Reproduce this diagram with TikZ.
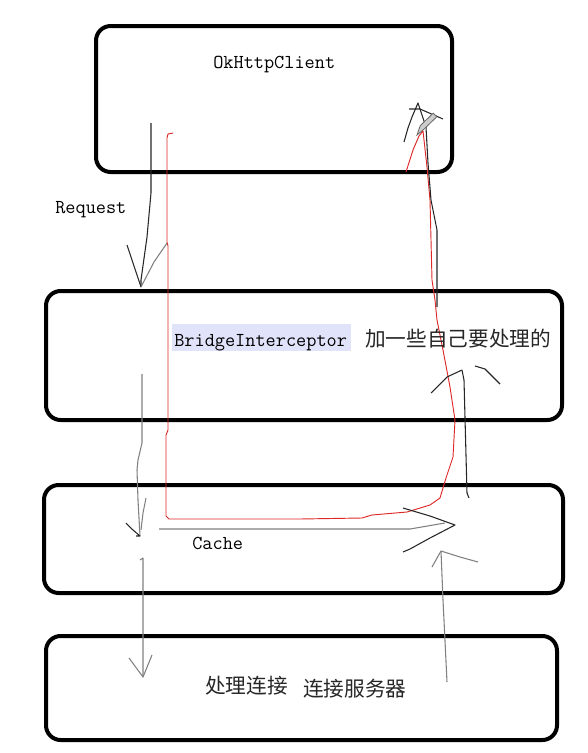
\documentclass[tikz,border=0pt]{standalone}
\usepackage{fontspec}
\newfontfamily\cjk{Noto Sans CJK SC}
\usepackage{tikz}
\definecolor{penred}{RGB}{222,40,40}
\definecolor{hilite}{RGB}{224,227,250}

\begin{document}
\begin{tikzpicture}[x=0.75pt,y=0.75pt,yscale=-1,xscale=1,
    box/.style={line width=3pt, rounded corners=11pt},
    ink/.style={line width=0.8pt, black!85, line join=round},
    greyink/.style={line width=0.8pt, black!50, line join=round},
    redink/.style={line width=0.7pt, penred, line join=round},
    mono/.style={font=\ttfamily\fontsize{14.8}{16}\selectfont, text=black},
    zh/.style={font=\cjk\fontsize{15.5}{17}\selectfont, text=black!85}]
    \path[use as bounding box] (0,0) rectangle (587,753); %page 587 x 753

    %Rounded Rect (client)
    \draw[box] (96,26) rectangle (452,172) ;
    %Rounded Rect (bridge)
    \draw[box] (46,291) rectangle (562,420) ;
    %Rounded Rect (cache)
    \draw[box] (44,485) rectangle (563,593) ;
    %Rounded Rect (connect)
    \draw[box] (46,636) rectangle (557,740) ;

    %Highlight behind BridgeInterceptor
    \fill[hilite] (172,324) rectangle (351,351) ;

    %Red path, down on the left and back up on the right
    \draw[redink] (173,133) -- (168,134) -- (167,138) -- (167,242) -- (168,246) -- (168,430) -- (166,435) -- (166,516) -- (169,519) -- (300,519) -- (362,518) -- (372,515) -- (407,512) -- (430,505) -- (440,498) -- (446,478) -- (453,457) -- (455,420) -- (450,387) -- (443,350) -- (437,320) -- (435,300) -- (432,280) -- (431,240) -- (430,200) -- (427,167) -- (424,140) -- (423,131) -- (419,136) -- (413,150) -- (406,172) ;

    %Arrow client -> bridge
    \draw[ink] (151,123) -- (151,193) -- (147,237) -- (141,280) -- (141,287) ;
    \draw[ink] (127,245) -- (131,257) -- (141,287) ;
    \draw[greyink] (141,287) -- (154,262) -- (167,243) ;

    %Arrow bridge -> cache
    \draw[greyink] (142,374) -- (142,443) -- (138,460) -- (137,470) -- (138,500) -- (140,536) ;
    \draw[ink] (126,523) -- (133,530) -- (140,536) -- (136,536) ;
    \draw[greyink] (146,498) -- (143,513) -- (141,530) ;

    %Arrow cache -> connect
    \draw[greyink] (140,560) -- (143,558) -- (143,677) ;
    \draw[greyink] (129,658) -- (143,677) -- (152,655) ;

    %Horizontal arrow next to Cache
    \draw[greyink] (159,529) -- (410,529) -- (445,523) ;
    \draw[ink] (403,508) -- (430,516) -- (455,525) -- (430,538) -- (410,549) -- (403,552) ;

    %Arrow connect -> cache
    \draw[greyink] (447,682) -- (443,600) -- (441,551) ;
    \draw[greyink] (432,567) -- (441,551) -- (460,557) -- (478,562) ;

    %Arrow cache -> bridge
    \draw[ink] (469,498) -- (467,493) -- (464,380) -- (462,370) ;
    \draw[ink] (431,393) -- (447,377) -- (462,370) ;
    \draw[ink] (475,366) -- (485,369) -- (500,384) ;

    %Arrow bridge -> client
    \draw[ink] (437,307) -- (437,230) -- (431,200) -- (428,163) -- (426,127) -- (418,103) -- (412,117) -- (408,128) -- (404,142) ;
    \draw[ink] (409,109) -- (420,109) -- (443,119) ;

    %Pencil cursor
    \draw[line width=0.6pt, black!60, fill=black!20] (417,135) -- (420.2,125.7) -- (433.2,113.2) -- (436.8,116.8) -- (423.8,129.3) -- cycle ;

    % Text Node
    \draw (213,68.5) node [anchor=base west][inner sep=0pt][mono] (client) {OkHttpClient};
    % Text Node
    \draw (55,213) node [anchor=base west][inner sep=0pt][mono] (request) {Request};
    % Text Node
    \draw (174,346) node [anchor=base west][inner sep=0pt][mono] (bridge) {BridgeInterceptor};
    % Text Node
    \draw (365,346.5) node [anchor=base west][inner sep=0pt][zh] (bridgenote) {加一些自己要处理的};
    % Text Node
    \draw (192,549) node [anchor=base west][inner sep=0pt][mono] (cache) {Cache};
    % Text Node
    \draw (205,693.5) node [anchor=base west][inner sep=0pt][zh] (connect) {处理连接};
    % Text Node
    \draw (303,696.5) node [anchor=base west][inner sep=0pt][zh] (server) {连接服务器};

\end{tikzpicture}
\end{document}
